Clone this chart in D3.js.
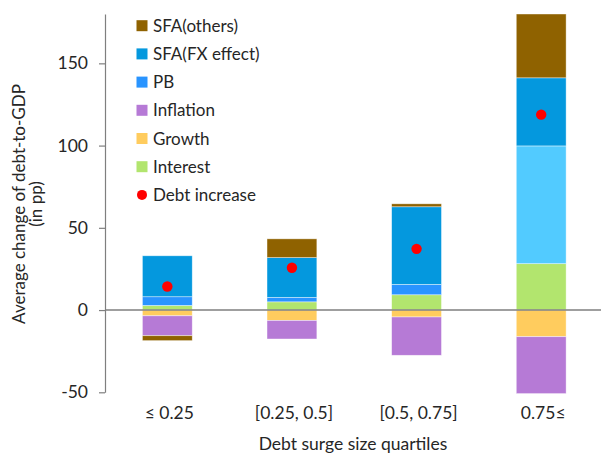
<!DOCTYPE html>
<html>
<head>
<meta charset="utf-8">
<script src="https://cdn.jsdelivr.net/npm/d3@7"></script>
<style>
  body { margin: 0; background: #fff; }
  text { font-family: Lato, "Liberation Sans", sans-serif; fill: #262626; }
</style>
</head>
<body>
<div id="chart"></div>
<script>
const width = 601;
const height = 456;

// categories (debt surge size quartiles)
const quartiles = ["≤ 0.25", "[0.25, 0.5]", "[0.5, 0.75]", "0.75≤"];

// decomposition, pp of GDP
const interest   = [2.8, 5.0, 9.3, 28.2];
const growth     = [-3.5, -6.3, -4.2, -16.2];
const inflation  = [-12.1, -11.3, -23.3, -34.6];
const pb         = [5.3, 2.7, 6.3, 71.6];
const sfaFx      = [24.9, 24.2, 47.2, 41.4];
const sfaOthers  = [-3.0, 11.4, 1.8, 38.8];
const debtIncrease = [14.3, 25.7, 37.2, 118.8];

const yTicks = [-50, 0, 50, 100, 150];

const keys = ["Interest", "Growth", "Inflation", "PB", "SFA(FX effect)", "SFA(others)"];
const legendKeys = ["SFA(others)", "SFA(FX effect)", "PB", "Inflation", "Growth", "Interest"];

const colors = {
  "Interest": "#b2e56e",
  "Growth": "#ffcc5e",
  "Inflation": "#b67ad6",
  "PB": "#2994ff",
  "SFA(FX effect)": "#0498de",
  "SFA(others)": "#8f6200"
};
// the last PB block is drawn lighter in the original
const pbLight = "#52cbff";

const rows = quartiles.map((q, i) => ({
  q,
  "Interest": interest[i],
  "Growth": growth[i],
  "Inflation": inflation[i],
  "PB": pb[i],
  "SFA(FX effect)": sfaFx[i],
  "SFA(others)": sfaOthers[i],
  debt: debtIncrease[i]
}));

const svg = d3.select("#chart")
  .append("svg")
  .attr("width", width)
  .attr("height", height);

const x = d3.scaleBand()
  .domain(quartiles)
  .range([105, 603.5])
  .paddingInner(0.6)
  .paddingOuter(0.3);

const y = d3.scaleLinear()
  .domain([-50, 180])
  .range([392.3, 14]);

const series = d3.stack()
  .keys(keys)
  .offset(d3.stackOffsetDiverging)(rows);

// bars
svg.append("g")
  .selectAll("g")
  .data(series)
  .join("g")
  .each(function(s) {
    d3.select(this).selectAll("rect")
      .data(s)
      .join("rect")
      .attr("x", d => x(d.data.q))
      .attr("width", x.bandwidth())
      .attr("y", d => y(Math.max(d[0], d[1])))
      .attr("height", d => Math.abs(y(d[0]) - y(d[1])))
      .attr("fill", d => (s.key === "PB" && d.data.q === "0.75≤") ? pbLight : colors[s.key])
      .attr("stroke", "#fff")
      .attr("stroke-opacity", 0.6)
      .attr("stroke-width", 0.7);
  });

// zero line
svg.append("line")
  .attr("x1", 105).attr("x2", width)
  .attr("y1", y(0)).attr("y2", y(0))
  .attr("stroke", "#7f7f7f")
  .attr("stroke-width", 1.6);

// debt increase dots
svg.append("g")
  .selectAll("circle")
  .data(rows)
  .join("circle")
  .attr("cx", d => x(d.q) + x.bandwidth() / 2)
  .attr("cy", d => y(d.debt))
  .attr("r", 5.2)
  .attr("fill", "#ff0000");

// y axis
const yAxis = svg.append("g")
  .attr("transform", "translate(105,0)")
  .call(d3.axisLeft(y).tickValues(yTicks).tickFormat(d => String(d))
    .tickSize(6).tickSizeOuter(0).tickPadding(11));
yAxis.select(".domain").attr("stroke", "#7f7f7f").attr("stroke-width", 1.2);
yAxis.selectAll(".tick line").attr("stroke", "#7f7f7f").attr("stroke-width", 1.2);
yAxis.selectAll(".tick text")
  .style("font-family", "Lato, 'Liberation Sans', sans-serif")
  .style("font-size", "17.5px")
  .attr("fill", "#404040");

// x labels
svg.append("g")
  .selectAll("text")
  .data(quartiles)
  .join("text")
  .attr("x", d => x(d) + x.bandwidth() / 2 + 2)
  .attr("y", 419)
  .attr("text-anchor", "middle")
  .style("font-size", "17.5px")
  .attr("fill", "#404040")
  .text(d => d);

// axis titles
svg.append("text")
  .attr("x", 353)
  .attr("y", 450)
  .attr("text-anchor", "middle")
  .style("font-size", "17.5px")
  .text("Debt surge size quartiles");

const yTitle = svg.append("text")
  .attr("transform", "translate(25,204) rotate(-90)")
  .attr("text-anchor", "middle")
  .style("font-size", "17px");
yTitle.append("tspan").attr("x", 0).attr("dy", 0).text("Average change of debt-to-GDP");
yTitle.append("tspan").attr("x", 0).attr("dy", 17).text("(in pp)");

// legend
const legend = svg.append("g");
const legendRows = legendKeys.concat(["Debt increase"]);
legendRows.forEach((k, i) => {
  const cy = 25.7 + i * 28.2;
  if (k === "Debt increase") {
    legend.append("circle").attr("cx", 142).attr("cy", cy).attr("r", 5).attr("fill", "#ff0000");
  } else {
    legend.append("rect")
      .attr("x", 136.5).attr("y", cy - 5.5)
      .attr("width", 11).attr("height", 11)
      .attr("fill", colors[k]);
  }
  legend.append("text")
    .attr("x", 153)
    .attr("y", cy + 6)
    .style("font-size", "17px")
    .text(k);
});
</script>
</body>
</html>
